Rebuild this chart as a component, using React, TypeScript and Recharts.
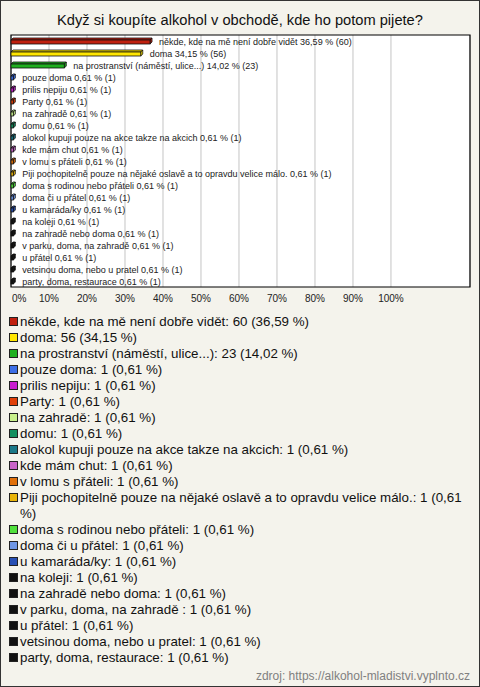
import { Bar, BarChart, CartesianGrid, Cell, ReferenceArea, XAxis, YAxis } from 'recharts';

const answers = [
  'někde, kde na mě není dobře vidět',
  'doma',
  'na prostranství (náměstí, ulice...)',
  'pouze doma',
  'prilis nepiju',
  'Party',
  'na zahradě',
  'domu',
  'alokol kupuji pouze na akce takze na akcich',
  'kde mám chut',
  'v lomu s přáteli',
  'Piji pochopitelně pouze na nějaké oslavě a to opravdu velice málo.',
  'doma s rodinou nebo přáteli',
  'doma či u přátel',
  'u kamaráda/ky',
  'na koleji',
  'na zahradě nebo doma',
  'v parku, doma, na zahradě ',
  'u přátel',
  'vetsinou doma, nebo u pratel',
  'party, doma, restaurace',
];
const counts = [60, 56, 23, 1, 1, 1, 1, 1, 1, 1, 1, 1, 1, 1, 1, 1, 1, 1, 1, 1, 1];
const percents = [
  36.59, 34.15, 14.02, 0.61, 0.61, 0.61, 0.61, 0.61, 0.61, 0.61, 0.61, 0.61, 0.61, 0.61, 0.61,
  0.61, 0.61, 0.61, 0.61, 0.61, 0.61,
];
const colors = [
  '#c0200f', '#ffe600', '#20b020', '#3c6ee6', '#c81ed0', '#e0400a', '#c8f08c', '#149060',
  '#1a7888', '#c864c8', '#e0700a', '#e8b40a', '#50e03c', '#6e96e6', '#2850b4', '#111111',
  '#111111', '#111111', '#111111', '#111111', '#111111',
];
const percentTicks = [0, 10, 20, 30, 40, 50, 60, 70, 80, 90, 100];

const FONT = "'Liberation Sans', Arial, sans-serif";
const fmt = (n: number) => n.toFixed(2).replace('.', ',');

const rows = answers.map((name, i) => ({
  name,
  count: counts[i],
  pct: percents[i],
}));

// flat 3D-looking bar plus its text label
function Bar3D(props: any) {
  const { x, y, width, height, fill, payload } = props;
  const d = 2;
  const top = y + 1;
  const h = height;
  const w = Math.max(width, 0.5);
  return (
    <g>
      <polygon
        points={`${x},${top} ${x + d},${top - d} ${x + w + d},${top - d} ${x + w},${top}`}
        fill={fill}
        stroke="#111"
        strokeWidth={0.8}
      />
      <polygon
        points={`${x + w},${top} ${x + w + d},${top - d} ${x + w + d},${top + h - d} ${x + w},${top + h}`}
        fill={fill}
        stroke="#111"
        strokeWidth={0.8}
      />
      <rect x={x} y={top} width={w} height={h} fill={fill} stroke="#111" strokeWidth={0.8} />
      <text
        x={x + w + 9}
        y={top + h / 2}
        dominantBaseline="central"
        fontSize={9}
        fontFamily={FONT}
        fill="#222"
      >
        {`${payload.name} ${fmt(payload.pct)} % (${payload.count})`}
      </text>
    </g>
  );
}

function PercentTick({ x, y, payload }: any) {
  const first = payload.value === 0;
  return (
    <text
      x={first ? x + 1 : x}
      y={y}
      dy="0.71em"
      textAnchor={first ? 'start' : 'middle'}
      fontSize={10}
      fontFamily={FONT}
      fill="#222"
    >
      {payload.value}%
    </text>
  );
}

export default function App() {
  return (
    <div
      style={{
        position: 'relative',
        width: 480,
        height: 687,
        background: '#f4f3ec',
        boxShadow: 'inset 0 0 0 1px #333',
        fontFamily: FONT,
        color: '#111',
        overflow: 'hidden',
      }}
    >
      <style>{'body{margin:0}'}</style>
      <div
        style={{
          position: 'absolute',
          top: 12,
          left: 0,
          width: 480,
          textAlign: 'center',
          fontSize: 14.67,
          lineHeight: '16px',
          color: '#111',
        }}
      >
        Když si koupíte alkohol v obchodě, kde ho potom pijete?
      </div>

      <div style={{ position: 'absolute', top: 0, left: 0 }}>
        <BarChart
          width={480}
          height={310}
          data={rows}
          layout="vertical"
          barSize={4}
          margin={{ top: 35, right: 10, bottom: 3, left: 11 }}
        >
          <CartesianGrid horizontal={false} stroke="#c4c4c4" fill="#ffffff" />
          <XAxis
            type="number"
            domain={[0, 120.8]}
            ticks={percentTicks}
            axisLine={false}
            tickLine={false}
            height={20}
            tick={<PercentTick />}
            interval={0}
          />
          <YAxis type="category" dataKey="name" hide width={0} />
          <ReferenceArea x1={0} x2={120.8} fill="none" stroke="#000" strokeWidth={1.2} fillOpacity={0} />
          <Bar dataKey="pct" shape={<Bar3D />} isAnimationActive={false}>
            {rows.map((r, i) => (
              <Cell key={r.name + i} fill={colors[i]} />
            ))}
          </Bar>
        </BarChart>
      </div>

      <div style={{ position: 'absolute', top: 314, left: 0, width: 470, fontSize: 13.33, lineHeight: '16px' }}>
        {rows.map((r, i) => (
          <div key={r.name + i} style={{ position: 'relative', paddingLeft: 20 }}>
            <span
              style={{
                position: 'absolute',
                left: 9,
                top: 3,
                width: 7,
                height: 7,
                background: colors[i],
                border: '1px solid #222',
              }}
            />
            {`${r.name}: ${r.count} (${fmt(r.pct)} %)`}
          </div>
        ))}
      </div>

      <div
        style={{
          position: 'absolute',
          right: 10,
          top: 668,
          fontSize: 12,
          lineHeight: '16px',
          color: '#808080',
        }}
      >
        zdroj: https://alkohol-mladistvi.vyplnto.cz
      </div>
    </div>
  );
}
